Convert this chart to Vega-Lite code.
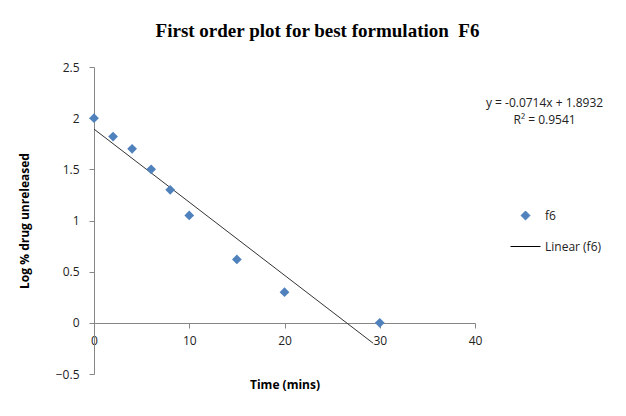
{
  "$schema": "https://vega.github.io/schema/vega-lite/v6.json",
  "autosize": "none",
  "width": 381,
  "height": 307,
  "padding": {"left": 94, "top": 67, "right": 151, "bottom": 42},
  "background": "white",
  "config": {"view": {"stroke": null}},
  "title": {
    "text": "First order plot for best formulation\u00a0 F6",
    "font": "Liberation Serif",
    "fontSize": 19,
    "fontWeight": "bold",
    "color": "#000000",
    "anchor": "middle",
    "dx": 33,
    "offset": 20
  },
  "datasets": {
    "obs": [
      {"time": 0, "value": 2.0, "series": "f6"},
      {"time": 2, "value": 1.82, "series": "f6"},
      {"time": 4, "value": 1.7, "series": "f6"},
      {"time": 6, "value": 1.5, "series": "f6"},
      {"time": 8, "value": 1.3, "series": "f6"},
      {"time": 10, "value": 1.05, "series": "f6"},
      {"time": 15, "value": 0.62, "series": "f6"},
      {"time": 20, "value": 0.3, "series": "f6"},
      {"time": 30, "value": 0.0, "series": "f6"}
    ],
    "fit": [
      {"time": 0, "value": 1.8932},
      {"time": 29.3, "value": -0.199}
    ],
    "eq": [
      {"time": 47.3, "value": 2.15, "label": "y = -0.0714x + 1.8932"},
      {"time": 47.3, "value": 1.985, "label": "R² = 0.9541"}
    ]
  },
  "layer": [
    {
      "data": {"name": "fit"},
      "mark": {"type": "line", "color": "#333333", "strokeWidth": 1},
      "encoding": {
        "x": {
          "field": "time", "type": "quantitative",
          "scale": {"domain": [0, 40], "nice": false, "zero": false},
          "axis": {
            "title": "Time (mins)",
            "values": [0, 10, 20, 30, 40],
            "offset": -51,
            "grid": false,
            "domainColor": "#868686",
            "tickColor": "#868686",
            "tickSize": 5,
            "labelPadding": 7,
            "labelFont": "Open Sans",
            "labelFontSize": 12,
            "labelColor": "#222222",
            "labelFlush": false,
            "titleFont": "Open Sans",
            "titleFontSize": 12,
            "titleFontWeight": "bold",
            "titleColor": "#000000",
            "titlePadding": 33
          }
        },
        "y": {
          "field": "value", "type": "quantitative",
          "scale": {"domain": [-0.5, 2.5], "nice": false, "zero": false},
          "axis": {
            "title": "Log % drug unreleased",
            "values": [-0.5, 0, 0.5, 1, 1.5, 2, 2.5],
            "format": "~g",
            "grid": false,
            "domainColor": "#868686",
            "tickColor": "#868686",
            "tickSize": 5,
            "labelPadding": 10,
            "labelFont": "Open Sans",
            "labelFontSize": 12,
            "labelColor": "#222222",
            "labelFlush": false,
            "titleFont": "Open Sans",
            "titleFontSize": 12,
            "titleFontWeight": "bold",
            "titleColor": "#000000",
            "titlePadding": 24
          }
        }
      }
    },
    {
      "data": {"name": "obs"},
      "mark": {"type": "point", "filled": true, "opacity": 1, "size": 95},
      "encoding": {
        "x": {"field": "time", "type": "quantitative"},
        "y": {"field": "value", "type": "quantitative"},
        "color": {
          "field": "series", "type": "nominal",
          "scale": {"domain": ["f6", "Linear (f6)"], "range": ["#4f81bd", "#000000"]},
          "legend": {
            "title": null,
            "orient": "none",
            "legendX": 416,
            "legendY": 133,
            "rowPadding": 9,
            "labelFont": "Open Sans",
            "labelFontSize": 12,
            "labelColor": "#222222",
            "symbolOpacity": 1,
            "encode": {
              "symbols": {
                "update": {
                  "stroke": {"scale": "color", "field": "value"},
                  "strokeWidth": {"value": 1},
                  "size": {"signal": "datum.value === 'f6' ? 80 : 900"}
                }
              }
            }
          }
        },
        "shape": {
          "field": "series", "type": "nominal",
          "scale": {"domain": ["f6", "Linear (f6)"], "range": ["diamond", "stroke"]}
        }
      }
    },
    {
      "data": {"name": "eq"},
      "mark": {"type": "text", "font": "Open Sans", "fontSize": 12, "color": "#222222", "align": "center", "baseline": "middle"},
      "encoding": {
        "x": {"field": "time", "type": "quantitative"},
        "y": {"field": "value", "type": "quantitative"},
        "text": {"field": "label"}
      }
    }
  ]
}
